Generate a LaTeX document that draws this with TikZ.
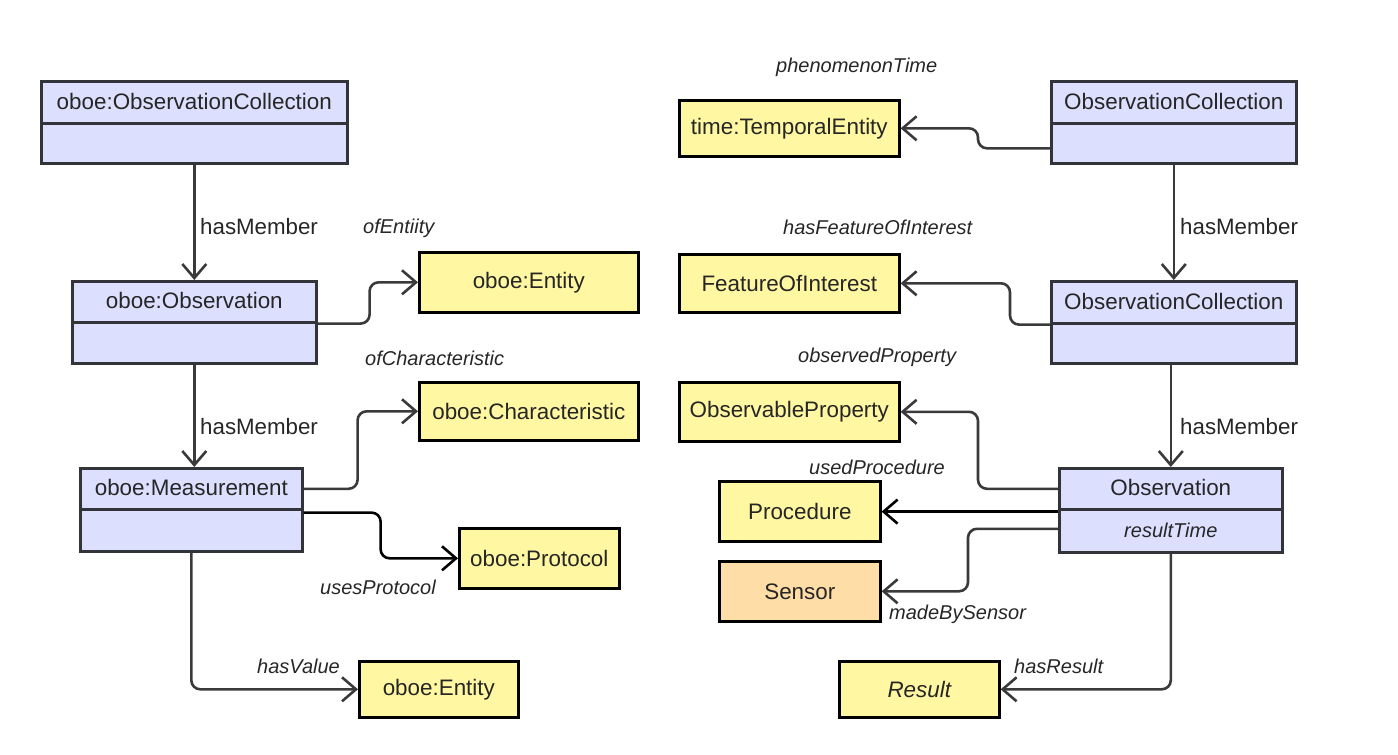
\documentclass[tikz,border=0pt]{standalone}
\usepackage{fontspec}
\setmainfont{Liberation Sans}
\usetikzlibrary{arrows.meta,calc}
\definecolor{clsfill}{HTML}{DDDFFF}
\definecolor{clsline}{HTML}{33333A}
\definecolor{yfill}{HTML}{FFF7A1}
\definecolor{ofill}{HTML}{FFDDA6}
\definecolor{conncol}{HTML}{3A3A3A}
\tikzset{
  box/.style={draw, line width=2.6pt, inner sep=0pt, anchor=north west, align=center, text=black!85,
    font=\fontsize{22.4}{26}\selectfont},
  clsbox/.style={box, fill=clsfill, draw=clsline},
  ybox/.style={box, fill=yfill, draw=black},
  obox/.style={box, fill=ofill, draw=black},
  conn/.style={draw=conncol, line width=2.6pt, rounded corners=9pt, -{Straight Barb[length=14pt,width=24pt,line width=2.6pt]}},
  bconn/.style={conn, draw=black},
  rel/.style={anchor=west, inner sep=0pt, text=black!85, font=\fontsize{20}{24}\selectfont\itshape},
  memb/.style={anchor=west, inner sep=0pt, text=black!85, font=\fontsize{22.3}{26}\selectfont},
}
\newcommand{\ttl}[1]{\raisebox{2pt}{#1}}
\begin{document}
\begin{tikzpicture}[x=1pt,y=-1pt]
\useasboundingbox (0,0) rectangle (1398,755);
% left classes
\node[clsbox, minimum width=306pt, minimum height=40pt] (ocLb) at (40,122) {};
\node[clsbox, minimum width=306pt, minimum height=42pt] (ocLt) at (40,80) {\ttl{oboe:ObservationCollection}};
\node[clsbox, minimum width=244pt, minimum height=41pt] (obsLb) at (71,321) {};
\node[clsbox, minimum width=244pt, minimum height=41pt] (obsLt) at (71,280) {\ttl{oboe:Observation}};
\node[clsbox, minimum width=222pt, minimum height=42pt] (meaLb) at (79,508) {};
\node[clsbox, minimum width=222pt, minimum height=41pt] (meaLt) at (79,467) {\ttl{oboe:Measurement}};
% left targets
\node[ybox, minimum width=219pt, minimum height=60pt] (entA) at (418,251) {oboe:Entity};
\node[ybox, minimum width=219pt, minimum height=58pt] (charA) at (418,381) {oboe:Characteristic};
\node[ybox, minimum width=160pt, minimum height=60pt] (protA) at (458,527) {oboe:Protocol};
\node[ybox, minimum width=159pt, minimum height=56pt] (entB) at (358,660) {oboe:Entity};
% right classes
\node[clsbox, minimum width=245pt, minimum height=40pt] (ocR1b) at (1050,122) {};
\node[clsbox, minimum width=245pt, minimum height=42pt] (ocR1t) at (1050,80) {\ttl{ObservationCollection}};
\node[clsbox, minimum width=245pt, minimum height=40pt] (ocR2b) at (1050,322) {};
\node[clsbox, minimum width=245pt, minimum height=42pt] (ocR2t) at (1050,280) {\ttl{ObservationCollection}};
\node[clsbox, minimum width=223pt, minimum height=43pt, font=\fontsize{20}{24}\selectfont\itshape] (obsRb) at (1058,508) {resultTime};
\node[clsbox, minimum width=223pt, minimum height=41pt] (obsRt) at (1058,467) {\ttl{Observation}};
% right targets
\node[ybox, minimum width=220pt, minimum height=56pt] (tempE) at (678,99) {time:TemporalEntity};
\node[ybox, minimum width=220pt, minimum height=58pt] (foi) at (678,253) {FeatureOfInterest};
\node[ybox, minimum width=220pt, minimum height=59pt] (obsP) at (678,381) {ObservableProperty};
\node[ybox, minimum width=161pt, minimum height=60pt] (proc) at (718,480) {Procedure};
\node[obox, minimum width=161pt, minimum height=60pt] (sens) at (718,560) {Sensor};
\node[ybox, minimum width=160pt, minimum height=56pt, font=\fontsize{22.4}{26}\selectfont\itshape] (res) at (838,660) {Result};
% left connectors
\draw[conn] (ocLb.south) -- (obsLt.north);
\draw[conn] (obsLt.south east) -- ++(52,0) |- (entA.west);
\draw[conn] (obsLb.south) -- (meaLt.north -| obsLb.south);
\draw[conn] (meaLt.east) -- ++(54,0) |- (charA.west);
\draw[bconn] ($(meaLt.south east)+(0,2)$) -- ++(77,0) |- (protA.west);
\draw[conn] (meaLb.south) |- (entB.west);
% right connectors
\draw[conn] ($(ocR1b.west)+(0,5)$) -- ++(-72,0) |- (tempE.east);
\draw[conn] (ocR1b.south) -- (ocR2t.north);
\draw[conn] (ocR2t.south west) -- ++(-40,0) |- (foi.east);
\draw[conn] (obsRt.north |- ocR2b.south) -- (obsRt.north);
\draw[conn] (obsRt.west) -- ++(-80,0) |- (obsP.east);
\draw[bconn] ($(obsRt.south west)+(0,1)$) -- (proc.east |- {$(obsRt.south west)+(0,1)$});
\draw[conn] ($(obsRb.west)+(0,-2)$) -- ++(-90,0) |- (sens.east);
\draw[conn] (obsRb.south) |- (res.east);
% labels
\node[memb] (lm1) at (200,227) {hasMember};
\node[memb] (lm2) at (200,427) {hasMember};
\node[memb] (rm1) at (1180,227) {hasMember};
\node[memb] (rm2) at (1180,427) {hasMember};
\node[rel] (l1) at (363,228) {ofEntiity};
\node[rel] (l2) at (365,358) {ofCharacteristic};
\node[rel] (l3) at (320,587) {usesProtocol};
\node[rel] (l4) at (257,666) {hasValue};
\node[rel] (r1) at (776,67) {phenomenonTime};
\node[rel] (r2) at (783,227) {hasFeatureOfInterest};
\node[rel] (r3) at (798,357) {observedProperty};
\node[rel] (r4) at (809,467) {usedProcedure};
\node[rel] (r5) at (889,614) {madeBySensor};
\node[rel] (r6) at (1014,666) {hasResult};
\end{tikzpicture}
\end{document}
